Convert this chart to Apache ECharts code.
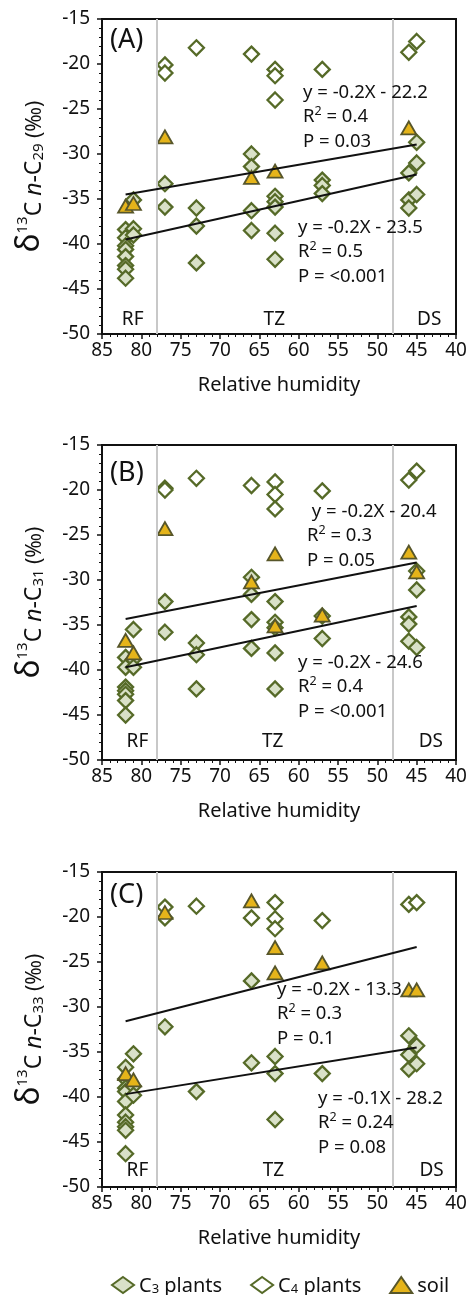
<!DOCTYPE html>
<html>
<head>
<meta charset="utf-8">
<script src="https://cdn.jsdelivr.net/npm/echarts@6/dist/echarts.min.js"></script>
<style>
  html, body { margin: 0; padding: 0; background: #fff; }
  #chart { width: 475px; height: 1295px; }
</style>
</head>
<body>
<div id="chart"></div>
<script>
// Relative humidity (%) vs. δ13C (‰) of n-alkanes, three chain lengths.
// Each point: [relative humidity, δ13C]

// (A) n-C29
const c29C3 = [
  [82, -38.4], [82, -39.3], [82, -40.2], [82, -40.6], [82, -41.4], [82, -42.4], [82, -42.8], [82, -43.8],
  [81, -35.1], [81, -38.3], [81, -39.0],
  [77, -33.3], [77, -35.9],
  [73, -36.0], [73, -38.0], [73, -42.1],
  [66, -30.0], [66, -31.4], [66, -36.3], [66, -38.5],
  [63, -34.7], [63, -35.3], [63, -35.9], [63, -38.8], [63, -41.7],
  [57, -32.9], [57, -33.5], [57, -34.4],
  [46, -32.1], [46, -35.1], [46, -36.0],
  [45, -28.7], [45, -31.0], [45, -34.5]
];
const c29C4 = [
  [77, -20.1], [77, -21.0], [73, -18.2], [66, -18.9],
  [63, -20.6], [63, -21.3], [63, -24.0], [57, -20.6],
  [46, -18.7], [45, -17.5]
];
const c29Soil = [
  [82, -35.8], [81, -35.5], [77, -28.1], [66, -32.6], [63, -31.9], [46, -27.1]
];

// (B) n-C31
const c31C3 = [
  [82, -38.6], [82, -39.7], [82, -41.9], [82, -42.3], [82, -42.7], [82, -43.4], [82, -45.0],
  [81, -35.5], [81, -38.8], [81, -39.7],
  [77, -32.4], [77, -35.8],
  [73, -37.0], [73, -38.3], [73, -42.1],
  [66, -29.7], [66, -31.6], [66, -34.4], [66, -37.6],
  [63, -32.4], [63, -34.7], [63, -35.3], [63, -38.1], [63, -42.1],
  [57, -34.0], [57, -36.5],
  [46, -34.1], [46, -34.9], [46, -36.8],
  [45, -29.0], [45, -31.1], [45, -37.5]
];
const c31C4 = [
  [77, -19.8], [77, -20.0], [73, -18.7], [66, -19.5],
  [63, -19.1], [63, -20.5], [63, -22.1], [57, -20.1],
  [46, -18.9], [45, -17.9]
];
const c31Soil = [
  [82, -36.7], [81, -38.1], [77, -24.3], [66, -30.2], [63, -27.1],
  [63, -35.1], [57, -33.9], [46, -26.9], [45, -29.1]
];

// (C) n-C33
const c33C3 = [
  [82, -36.7], [82, -38.0], [82, -39.0], [82, -39.4], [82, -40.5], [82, -42.0], [82, -42.8], [82, -43.3], [82, -43.7], [82, -46.3],
  [81, -35.2], [81, -38.8], [81, -39.8],
  [77, -32.2],
  [73, -39.4],
  [66, -27.1], [66, -36.2],
  [63, -35.5], [63, -37.4], [63, -42.5],
  [57, -37.4],
  [46, -33.2], [46, -35.3], [46, -36.9],
  [45, -34.3], [45, -36.3]
];
const c33C4 = [
  [77, -18.9], [77, -20.1], [73, -18.8], [66, -20.1],
  [63, -18.4], [63, -20.2], [63, -21.3], [57, -20.4],
  [46, -18.6], [45, -18.4]
];
const c33Soil = [
  [82, -37.4], [81, -38.1], [77, -19.5], [66, -18.2], [63, -23.4],
  [63, -26.2], [57, -25.1], [46, -28.1], [45, -28.1]
];

// Linear fits per panel: [upper, lower]
const fitSlopes     = [[-0.15, -0.195], [-0.17, -0.184], [-0.223, -0.14]];
const fitIntercepts = [[-22.2, -23.5],  [-20.4, -24.6],  [-13.3, -28.2]];
const fitRange = [82, 45];
const eqLabels = [
  [['y = -0.2X - 22.2', '0.4', 'P = 0.03'], ['y = -0.2X - 23.5', '0.5', 'P = <0.001']],
  [[' y = -0.2X - 20.4', '0.3', 'P = 0.05'], ['y = -0.2X - 24.6', '0.4', 'P = <0.001']],
  [['y = -0.2X - 13.3', '0.3', 'P = 0.1'], ['y = -0.1X - 28.2', '0.24', 'P = 0.08']]
];

// Vegetation zones along the humidity gradient
const zoneBounds = [78, 48];
const zoneNames = ['RF', 'TZ', 'DS'];
const panelTags = ['(A)', '(B)', '(C)'];
const chainSubs = ['29', '31', '33'];

const panels = [
  { c3: c29C3, c4: c29C4, soil: c29Soil },
  { c3: c31C3, c4: c31C4, soil: c31Soil },
  { c3: c33C3, c4: c33C4, soil: c33Soil }
];

const FONT = '"Noto Sans", "DejaVu Sans", sans-serif';
const INK = '#111';
const OLIVE = '#566a28';

// layout
const gridTops = [19, 445, 872];
const gridH = 315;
const zoneLabelPos = [
  [[81.1, -48.4], [63.1, -48.4], [43.4, -48.4]],
  [[80.5, -48.0], [63.3, -48.0], [43.2, -48.0]],
  [[80.5, -48.2], [63.2, -48.2], [43.1, -48.2]]
];
const eqBoxPos = [
  [[303, 83], [298, 218]],
  [[307, 502], [298, 653]],
  [[277, 980], [318, 1089]]
];
const tagPos = [[110, 44], [110, 477], [110, 899]];

const chart = echarts.init(document.getElementById('chart'), null, { renderer: 'canvas' });

const grids = [], xAxes = [], yAxes = [], series = [], graphics = [];

panels.forEach((p, i) => {
  grids.push({
    left: 102, width: 354, top: gridTops[i], height: gridH,
    show: true, borderColor: '#111', borderWidth: 2, backgroundColor: 'transparent'
  });
  xAxes.push({
    gridIndex: i, type: 'value', min: 40, max: 85, interval: 5, inverse: true,
    axisLine: { show: true, onZero: false, lineStyle: { color: '#111', width: 2 } },
    axisTick: { show: true, length: 5, lineStyle: { color: '#111', width: 1.5 } },
    minorTick: { show: true, splitNumber: 5, length: 3, lineStyle: { color: '#111', width: 1 } },
    splitLine: { show: false },
    axisLabel: { fontSize: 19, color: INK, fontFamily: FONT, margin: 7 },
    name: 'Relative humidity', nameLocation: 'middle', nameGap: 41,
    nameTextStyle: { fontSize: 20, color: INK, fontFamily: FONT }
  });
  yAxes.push({
    gridIndex: i, type: 'value', min: -50, max: -15, interval: 5,
    axisLine: { show: true, onZero: false, lineStyle: { color: '#111', width: 2 } },
    axisTick: { show: true, length: 5, lineStyle: { color: '#111', width: 1.5 } },
    minorTick: { show: true, splitNumber: 5, length: 3, lineStyle: { color: '#111', width: 1 } },
    splitLine: { show: false },
    axisLabel: { fontSize: 19, color: INK, fontFamily: FONT, margin: 12 },
    name: '{d|δ}{sup|13}{m|C }{i|n}{m|-C}{sub|' + chainSubs[i] + '}{p| (‰)}',
    nameLocation: 'middle', nameRotate: 90, nameGap: 56,
    nameTextStyle: {
      color: INK, fontFamily: FONT,
      rich: {
        d:   { fontSize: 32, fontFamily: FONT, color: INK, verticalAlign: 'bottom', lineHeight: 31 },
        sup: { fontSize: 15, fontFamily: FONT, color: INK, verticalAlign: 'top', lineHeight: 15 },
        m:   { fontSize: 23, fontFamily: FONT, color: INK, verticalAlign: 'bottom', lineHeight: 24 },
        i:   { fontSize: 23, fontFamily: FONT, color: INK, fontStyle: 'italic', verticalAlign: 'bottom', lineHeight: 24 },
        sub: { fontSize: 15, fontFamily: FONT, color: INK, verticalAlign: 'bottom', lineHeight: 11 },
        p:   { fontSize: 21, fontFamily: FONT, color: INK, verticalAlign: 'bottom', lineHeight: 24 }
      }
    }
  });

  // zone boundaries
  series.push({
    type: 'scatter', xAxisIndex: i, yAxisIndex: i, data: [], z: 1, silent: true,
    markLine: {
      silent: true, symbol: 'none', animation: false,
      label: { show: false },
      lineStyle: { color: '#c8c8c8', width: 2, type: 'solid', opacity: 1 },
      data: zoneBounds.map(v => ({ xAxis: v }))
    }
  });

  series.push({
    name: 'C3 plants', type: 'scatter', xAxisIndex: i, yAxisIndex: i, data: p.c3,
    symbol: 'diamond', symbolSize: 15, z: 3,
    itemStyle: { color: '#d9e1c8', borderColor: OLIVE, borderWidth: 2.3, opacity: 1 }
  });
  series.push({
    name: 'C4 plants', type: 'scatter', xAxisIndex: i, yAxisIndex: i, data: p.c4,
    symbol: 'diamond', symbolSize: 15, z: 3,
    itemStyle: { color: '#ffffff', borderColor: OLIVE, borderWidth: 2.3, opacity: 1 }
  });
  series.push({
    name: 'soil', type: 'scatter', xAxisIndex: i, yAxisIndex: i, data: p.soil,
    symbol: 'triangle', symbolSize: [15, 13], z: 4,
    itemStyle: { color: '#e5b41a', borderColor: '#57562a', borderWidth: 1.8, opacity: 1 }
  });

  // regression lines
  fitSlopes[i].forEach((s, k) => {
    const b = fitIntercepts[i][k];
    series.push({
      type: 'line', xAxisIndex: i, yAxisIndex: i, z: 5, silent: true,
      symbol: 'none', lineStyle: { color: '#111', width: 2 },
      data: fitRange.map(x => [x, s * x + b])
    });
  });

  // zone names
  series.push({
    type: 'scatter', xAxisIndex: i, yAxisIndex: i, z: 2, silent: true,
    symbolSize: 0, itemStyle: { opacity: 1 },
    label: { show: true, position: 'inside', formatter: '{b}', fontSize: 19, color: INK, fontFamily: FONT },
    data: zoneNames.map((n, k) => ({ name: n, value: zoneLabelPos[i][k] }))
  });

  // panel tag
  graphics.push({
    type: 'text', left: tagPos[i][0], top: tagPos[i][1] - 17,
    style: { text: panelTags[i], fontSize: 27, fontFamily: FONT, fill: INK }
  });

  // fit statistics
  eqLabels[i].forEach((lab, k) => {
    graphics.push({
      type: 'text', left: eqBoxPos[i][k][0], top: eqBoxPos[i][k][1], z: 10,
      style: {
        text: '{t|' + lab[0] + '}\n{t|R}{s|2}{t| = ' + lab[1] + '}\n{t|' + lab[2] + '}',
        rich: {
          t: { fontSize: 18.5, fontFamily: FONT, fill: INK, lineHeight: 24.5 },
          s: { fontSize: 12.5, fontFamily: FONT, fill: INK, verticalAlign: 'top', lineHeight: 16 }
        }
      }
    });
  });
});

const legendRich = {
  a: { fontSize: 20, fontFamily: FONT, color: INK, verticalAlign: 'bottom', lineHeight: 22 },
  s: { fontSize: 13, fontFamily: FONT, color: INK, verticalAlign: 'bottom', lineHeight: 14 }
};

chart.setOption({
  animation: false,
  backgroundColor: '#ffffff',
  textStyle: { fontFamily: FONT },
  grid: grids,
  xAxis: xAxes,
  yAxis: yAxes,
  series: series,
  graphic: graphics,
  legend: {
    left: 106, top: 1271, orient: 'horizontal',
    itemWidth: 22, itemHeight: 16, itemGap: 28,
    data: ['C3 plants', 'C4 plants', 'soil'],
    selectedMode: false,
    formatter: name => {
      if (name === 'soil') return '{a|soil}';
      return '{a|C}{s|' + name.charAt(1) + '}{a| plants}';
    },
    textStyle: { fontFamily: FONT, color: INK, rich: legendRich }
  }
});
</script>
</body>
</html>
